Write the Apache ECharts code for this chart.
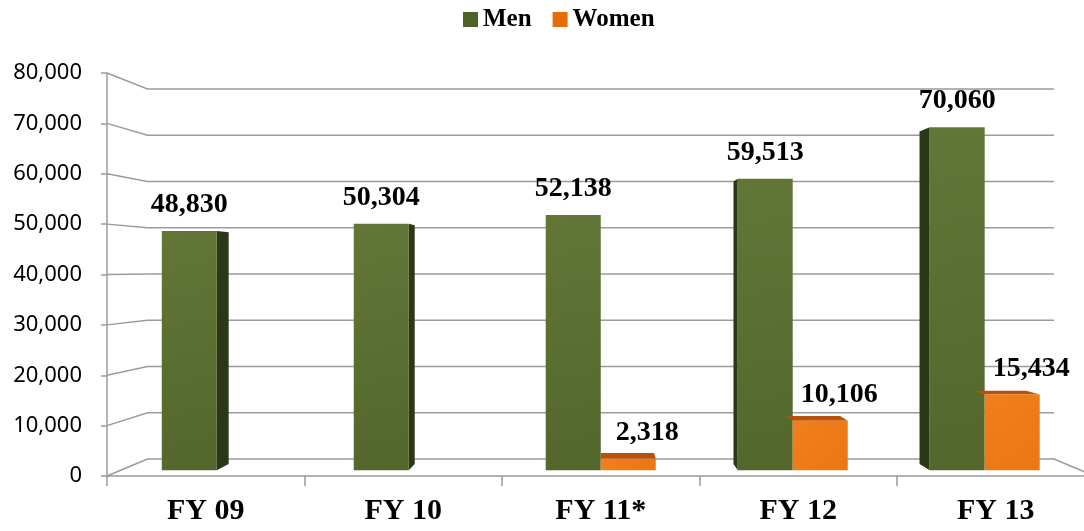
<!DOCTYPE html>
<html>
<head>
<meta charset="utf-8">
<script src="https://cdn.jsdelivr.net/npm/echarts@6/dist/echarts.min.js"></script>
<style>
  html, body { margin: 0; padding: 0; background: #fff; }
  #chart { width: 1084px; height: 531px; }
</style>
</head>
<body>
<div id="chart"></div>
<script>
var categories = ['FY 09', 'FY 10', 'FY 11*', 'FY 12', 'FY 13'];
var menData = [48830, 50304, 52138, 59513, 70060];
var womenData = [null, null, 2318, 10106, 15434];
var yTicks = [0, 10000, 20000, 30000, 40000, 50000, 60000, 70000, 80000];

// fake 3d: everything is projected toward a vanishing point
var EYE_VALUE = 41300;   // eye level, in data units
var WALL_DEPTH = 0.918;  // back wall
var BAR_FRONT = 0.972;   // front face of the bars
var BAR_BACK = 0.942;    // back face of the bars
var BAR_SHARE = 0.2866;  // one bar width / category width

var gridColor = '#9b9b9b';

function vanish(api) {
  return api.coord([(categories.length - 1) / 2, EYE_VALUE]);
}

function project(pt, vp, k) {
  return [vp[0] + (pt[0] - vp[0]) * k, vp[1] + (pt[1] - vp[1]) * k];
}

function fmt(v) {
  return v.toString().replace(/\B(?=(\d{3})+(?!\d))/g, ',');
}

function renderWall(params, api) {
  var v = api.value(1);
  var vp = vanish(api);
  var cw = api.size([1, 0])[0];
  var l = api.coord([0, v]);
  l[0] -= cw / 2;
  var r = api.coord([categories.length - 1, v]);
  r[0] += cw / 2;
  var pts = [l, project(l, vp, WALL_DEPTH), project(r, vp, WALL_DEPTH)];
  if (v === 0) pts.push(r);
  return {
    type: 'polyline',
    shape: { points: pts },
    style: { stroke: gridColor, lineWidth: 1.5, fill: null }
  };
}

// side 0 = left bar of the pair, 1 = right bar; the face touching the other bar stays hidden
function makeBarRender(side, other, colors, labelShift) {
  return function (params, api) {
    var i = api.value(0);
    var v = api.value(1);
    if (v == null || isNaN(v)) return;
    var hasOther = other[i] != null;
    var vp = vanish(api);
    var cw = api.size([1, 0])[0];
    var bw = cw * BAR_SHARE;
    var base = api.coord([i, 0]);
    var top = api.coord([i, v]);
    var x0 = base[0] + (side === 0 ? -bw : 0);
    var x1 = x0 + bw;
    var c = [[x0, base[1]], [x1, base[1]], [x1, top[1]], [x0, top[1]]];
    var f = c.map(function (p) { return project(p, vp, BAR_FRONT); });
    var b = c.map(function (p) { return project(p, vp, BAR_BACK); });
    var kids = [];
    if (x1 < vp[0] && !(side === 0 && hasOther)) {
      kids.push({ type: 'polygon', shape: { points: [f[1], b[1], b[2], f[2]] }, style: { fill: colors.side } });
    } else if (x0 > vp[0] + 1 && !(side === 1 && hasOther)) {
      kids.push({ type: 'polygon', shape: { points: [f[0], b[0], b[3], f[3]] }, style: { fill: colors.side } });
    }
    if (top[1] > vp[1]) {
      kids.push({ type: 'polygon', shape: { points: [f[3], f[2], b[2], b[3]] }, style: { fill: colors.top } });
    }
    kids.push({
      type: 'polygon',
      shape: { points: f },
      style: {
        fill: new echarts.graphic.LinearGradient(0, 0, 1, 1, [
          { offset: 0, color: colors.light },
          { offset: 1, color: colors.dark }
        ])
      }
    });
    kids.push({
      type: 'text',
      style: {
        text: fmt(v),
        x: (f[2][0] + f[3][0]) / 2 + labelShift,
        y: f[3][1] - 26,
        align: 'center',
        verticalAlign: 'middle',
        fontFamily: 'Liberation Serif',
        fontWeight: 'bold',
        fontSize: 28,
        fill: '#000'
      }
    });
    return { type: 'group', children: kids };
  };
}

var chart = echarts.init(document.getElementById('chart'));

chart.setOption({
  animation: false,
  legend: {
    data: ['Men', 'Women'],
    left: 458,
    top: 2,
    icon: 'rect',
    itemWidth: 15,
    itemHeight: 15,
    itemGap: 21,
    textStyle: { fontFamily: 'Liberation Serif', fontWeight: 'bold', fontSize: 25, color: '#000' }
  },
  grid: {
    left: 107,
    top: 73,
    right: -10.5,
    bottom: 55,
    containLabel: false,
    outerBoundsMode: 'none'
  },
  xAxis: {
    type: 'category',
    data: categories,
    axisLine: { lineStyle: { color: gridColor, width: 1.5 } },
    axisTick: { show: true, interval: 0, length: 10, lineStyle: { color: gridColor, width: 1.5 } },
    axisLabel: {
      interval: 0,
      margin: 20,
      fontFamily: 'Liberation Serif',
      fontWeight: 'bold',
      fontSize: 30,
      color: '#000'
    }
  },
  yAxis: {
    type: 'value',
    min: 0,
    max: 80000,
    interval: 10000,
    axisLine: { show: true, lineStyle: { color: gridColor, width: 1.5 } },
    axisTick: { show: true, length: 6, lineStyle: { color: gridColor, width: 1.5 } },
    splitLine: { show: false },
    axisLabel: {
      margin: 25,
      fontFamily: 'Noto Sans',
      fontSize: 22,
      color: '#000',
      formatter: function (v) { return fmt(v); }
    }
  },
  series: [
    {
      name: 'wall',
      type: 'custom',
      z: 1,
      clip: false,
      silent: true,
      renderItem: renderWall,
      data: yTicks.map(function (v) { return [0, v]; })
    },
    {
      name: 'Men',
      type: 'custom',
      z: 3,
      clip: false,
      itemStyle: { color: '#4f6228' },
      renderItem: makeBarRender(0, womenData, { light: '#617637', dark: '#53672c', side: '#2c3718', top: '#6d8342' }, 0),
      data: menData.map(function (v, i) { return [i, v]; })
    },
    {
      name: 'Women',
      type: 'custom',
      z: 3,
      clip: false,
      itemStyle: { color: '#e46c0a' },
      renderItem: makeBarRender(1, menData, { light: '#f07f1c', dark: '#ec7614', side: '#a94d08', top: '#b8520a' }, 19),
      data: womenData.map(function (v, i) { return [i, v]; })
    }
  ]
});
</script>
</body>
</html>
